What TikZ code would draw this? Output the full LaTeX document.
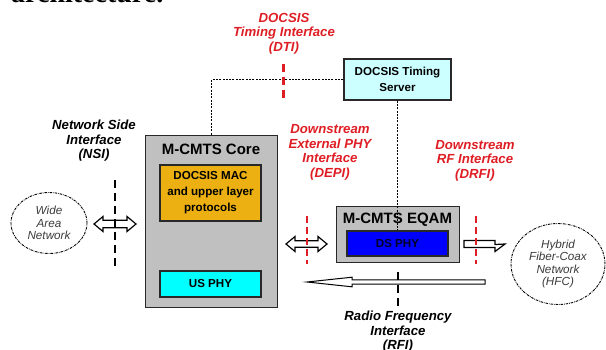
\documentclass[tikz,border=0pt]{standalone}
\usepackage{fontspec}
\setmainfont{Liberation Sans}
\newfontfamily\serifx{Liberation Serif}
\definecolor{myred}{RGB}{222,30,36}
\definecolor{coregray}{RGB}{192,192,192}
\definecolor{macorange}{RGB}{236,176,18}
\definecolor{usphy}{RGB}{0,255,255}
\definecolor{srvcyan}{RGB}{204,255,255}
\definecolor{dsblue}{RGB}{0,0,255}
\definecolor{cloudtext}{RGB}{60,60,60}
\definecolor{boxline}{RGB}{40,40,40}
\tikzset{
  boxstyle/.style={draw=boxline, line width=1.3pt, inner sep=0pt, align=center},
  innerfont/.style={font=\fontsize{11.6}{16}\selectfont\bfseries},
  titlefont/.style={font=\fontsize{15}{17}\selectfont\bfseries, inner sep=0pt},
  redlbl/.style={text=myred, font=\fontsize{13.2}{14.5}\selectfont\bfseries\itshape, align=center, inner sep=0pt},
  blklbl/.style={text=black, font=\fontsize{13.2}{14.5}\selectfont\bfseries\itshape, align=center, inner sep=0pt},
  cloudstyle/.style={ellipse, draw=black, line width=0.9pt, dash pattern=on 2.4pt off 1pt on 0.7pt off 1pt, inner sep=0pt, text=cloudtext, align=center, font=\fontsize{11.7}{12.5}\selectfont\itshape},
  dotline/.style={draw=black, line width=1.4pt, dash pattern=on 2pt off 1.3pt},
  reddash/.style={draw=myred, line width=3pt, dash pattern=on 8pt off 5pt},
  reddashthin/.style={draw=myred, line width=2.3pt, dash pattern=on 6.5pt off 4.5pt},
  blkdash/.style={draw=black, line width=2.8pt, dash pattern=on 8pt off 5pt},
  blockarrow/.style={draw=black, fill=white, line width=1.2pt, line join=miter},
}
\usetikzlibrary{shapes.geometric}
\begin{document}
\begin{tikzpicture}[x=1pt,y=-1pt]
\useasboundingbox (0,0) rectangle (606,349);
% cut-off heading at the top
\begin{scope}
\clip (0,0) rectangle (606,349);
\node[anchor=base west, inner sep=0pt, font=\serifx\fontsize{28}{28}\selectfont\bfseries] (heading) at (11,2.5) {architecture.};
\end{scope}

% boxes
\node[boxstyle, fill=coregray, minimum width=132, minimum height=172, anchor=north west] (core) at (145,135) {};
\node[titlefont] (coretitle) at (211,149) {M-CMTS Core};
\node[boxstyle, innerfont, fill=macorange, minimum width=101, minimum height=56] (mac) at (210.5,193) {DOCSIS MAC\\and upper layer\\protocols};
\node[boxstyle, innerfont, fill=usphy, minimum width=101, minimum height=26] (us) at (210.5,284) {US PHY};

\node[boxstyle, innerfont, fill=srvcyan, minimum width=107, minimum height=41] (server) at (397.5,79.5) {DOCSIS Timing\\Server};

\node[boxstyle, fill=coregray, minimum width=123, minimum height=56, anchor=north west] (eqam) at (336,206) {};
\node[titlefont] (eqamtitle) at (397.5,220) {M-CMTS EQAM};
\node[boxstyle, innerfont, fill=dsblue, text=black!85!blue, minimum width=101, minimum height=25] (ds) at (397.5,243.5) {DS PHY};

% clouds
\node[cloudstyle, minimum width=76, minimum height=61] (wan) at (49,223) {Wide\\Area\\Network};
\node[cloudstyle, minimum width=94, minimum height=81] (hfc) at (558,264) {Hybrid\\Fiber-Coax\\Network\\(HFC)};

% timing connectors
\draw[dotline] (server.west) -| (core.north);
\draw[dotline] (server.south) -- (ds.north);

% labels
\node[redlbl] (dti) at (284,33.5) {DOCSIS\\Timing Interface\\(DTI)};
\node[blklbl] (nsi) at (94,141) {Network Side\\Interface\\(NSI)};
\node[redlbl] (depi) at (330,152.5) {Downstream\\External PHY\\Interface\\(DEPI)};
\node[redlbl] (drfi) at (475,160.5) {Downstream\\RF Interface\\(DRFI)};
\node[blklbl] (rei) at (398,332) {Radio Frequency\\Interface\\(RFI)};

% block arrows
\coordinate (nsiL) at (94,224);
\coordinate (nsiR) at (136,224);
\draw[blockarrow] (nsiL) -- ++(9,-7.5) -- ++(0,3.7) -- ([xshift=-9pt,yshift=3.8pt]nsiR) -- ++(0,-3.7) -- (nsiR) -- ++(-9,7.5) -- ++(0,-3.7) -- ([xshift=9pt,yshift=-3.8pt]nsiL) -- ++(0,3.7) -- cycle;

\coordinate (depiL) at (286,244);
\coordinate (depiR) at (327,244);
\draw[blockarrow] (depiL) -- ++(9,-7.5) -- ++(0,4.2) -- ([xshift=-9pt,yshift=3.3pt]depiR) -- ++(0,-4.2) -- (depiR) -- ++(-9,7.5) -- ++(0,-4.2) -- ([xshift=9pt,yshift=-3.3pt]depiL) -- ++(0,4.2) -- cycle;

\coordinate (drfiL) at (464,244);
\coordinate (drfiR) at (505,244);
\draw[blockarrow] ([yshift=3.5pt]drfiL) -- ([xshift=-10pt,yshift=3.5pt]drfiR) -- ++(0,4) -- (drfiR) -- ++(-10,7.5) -- ++(0,-4) -- ([yshift=-3.5pt]drfiL) -- cycle;

\coordinate (reiTip) at (307,282);
\coordinate (reiEnd) at (485,282);
\draw[blockarrow, line width=1pt] (reiTip) -- ++(45,-4.8) -- ++(0,2.6) -- ([yshift=2.2pt]reiEnd) -- ([yshift=-2.2pt]reiEnd) -- ([xshift=45pt,yshift=-2.2pt]reiTip) -- ++(0,2.6) -- cycle;

% interface dashed lines
\coordinate (dtiT) at (283,64);  \coordinate (dtiB) at (283,99);
\coordinate (depiT) at (307,216); \coordinate (depiB) at (307,264);
\coordinate (drfiT) at (476,216); \coordinate (drfiB) at (476,264);
\coordinate (nsiT) at (115,180); \coordinate (nsiB) at (115,267);
\coordinate (reiT) at (398,272); \coordinate (reiB) at (398,308);
\draw[reddash] (dtiT) -- (dtiB);
\draw[reddashthin] (depiT) -- (depiB);
\draw[reddashthin] (drfiT) -- (drfiB);
\draw[blkdash] (nsiT) -- (nsiB);
\draw[blkdash] (reiT) -- (reiB);
\end{tikzpicture}
\end{document}
